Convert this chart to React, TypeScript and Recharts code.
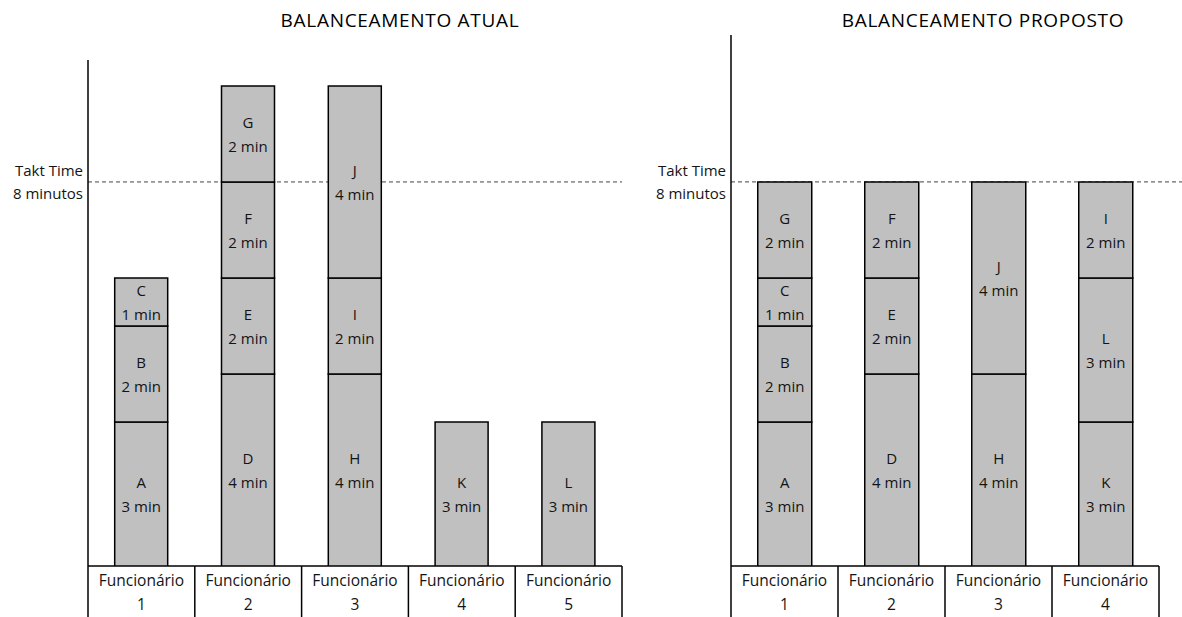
import React from "react";
import { BarChart, Bar, XAxis, YAxis, ReferenceLine, LabelList } from "recharts";

// ---------- data ----------
const atualWorkers = ["Funcionário 1", "Funcionário 2", "Funcionário 3", "Funcionário 4", "Funcionário 5"];
const atualTasks = [["A", "B", "C"], ["D", "E", "F", "G"], ["H", "I", "J"], ["K"], ["L"]];
const atualMinutes = [[3, 2, 1], [4, 2, 2, 2], [4, 2, 4], [3], [3]];

const propostoWorkers = ["Funcionário 1", "Funcionário 2", "Funcionário 3", "Funcionário 4"];
const propostoTasks = [["A", "B", "C", "G"], ["D", "E", "F"], ["H", "J"], ["K", "L", "I"]];
const propostoMinutes = [[3, 2, 1, 2], [4, 2, 2], [4, 4], [3, 3, 2]];

const taktTime = 8;
const taktLabel = ["Takt Time", "8 minutos"];
const titles = ["BALANCEAMENTO ATUAL", "BALANCEAMENTO PROPOSTO"];

// ---------- style ----------
const FONT = "'Open Sans', 'Noto Sans', sans-serif";
const TEXT = "#141414";
const H = 617;
const LAYERS = [0, 1, 2, 3];
const YW = 10;

function buildRows(workers: string[], tasks: string[][], minutes: number[][]) {
  return workers.map((w, i) => {
    const row: any = { name: w };
    LAYERS.forEach((l) => {
      row[`s${l}`] = minutes[i][l] ?? 0;
      row[`t${l}`] = tasks[i][l] ?? "";
    });
    return row;
  });
}

const segLabel = (p: any) => {
  const { x, y, width, height, value } = p;
  if (!value) return null;
  const [task, mins] = String(value).split("|");
  if (!task || !mins || mins === "0") return null;
  const cx = Number(x) + Number(width) / 2;
  const cy = Number(y) + Number(height) / 2;
  return (
    <g>
      <text x={cx} y={cy - 12} textAnchor="middle" dominantBaseline="central" fontFamily={FONT} fontSize={15} fill={TEXT}>
        {task}
      </text>
      <text x={cx} y={cy + 12} textAnchor="middle" dominantBaseline="central" fontFamily={FONT} fontSize={15} fill={TEXT}>
        {`${mins} min`}
      </text>
    </g>
  );
};

const CatTick = (props: any) => {
  const { x, y, payload, half, count } = props;
  const txt: string = String(payload.value);
  const cut = txt.lastIndexOf(" ");
  const l1 = txt.slice(0, cut);
  const l2 = txt.slice(cut + 1);
  return (
    <g>
      <line x1={x - half} x2={x - half} y1={y} y2={y + 60} stroke="#000" strokeWidth={1.5} />
      {payload.index === count - 1 && (
        <line x1={x + half} x2={x + half} y1={y} y2={y + 60} stroke="#000" strokeWidth={1.5} />
      )}
      <text x={x} y={y + 14} textAnchor="middle" dominantBaseline="central" fontFamily={FONT} fontSize={15.5} fill={TEXT}>
        {l1}
      </text>
      <text x={x} y={y + 38} textAnchor="middle" dominantBaseline="central" fontFamily={FONT} fontSize={15.5} fill={TEXT}>
        {l2}
      </text>
    </g>
  );
};

const TaktLbl = (p: any) => {
  const vb = p.viewBox || {};
  const x = Number(vb.x) - 5;
  const y = Number(vb.y);
  return (
    <g>
      <text x={x} y={y - 12} textAnchor="end" dominantBaseline="central" fontFamily={FONT} fontSize={15} fill={TEXT}>
        {taktLabel[0]}
      </text>
      <text x={x} y={y + 11} textAnchor="end" dominantBaseline="central" fontFamily={FONT} fontSize={15} fill={TEXT}>
        {taktLabel[1]}
      </text>
    </g>
  );
};

function Panel(props: any) {
  const { title, titleCenter, workers, tasks, minutes, left, width, margin, yMax, lineExtend } = props;
  const rows = buildRows(workers, tasks, minutes);
  const m = { ...margin, left: margin.left - YW };
  const plotW = width - margin.left - margin.right;
  const half = plotW / workers.length / 2;
  const layer: React.CSSProperties = { position: "absolute", left: 0, top: 0 };
  return (
    <div style={{ position: "absolute", left, top: 0, width, height: H }}>
      <div
        style={{
          position: "absolute",
          left: titleCenter - left - 200,
          width: 400,
          top: 8,
          textAlign: "center",
          fontFamily: FONT,
          fontSize: 19,
          letterSpacing: 0.7,
          color: "#000",
          lineHeight: "24px",
          whiteSpace: "nowrap",
        }}
      >
        {title}
      </div>
      {/* bottom layer: axes, category cells and takt line */}
      <div style={layer}>
        <BarChart width={width} height={H} data={rows} margin={m} barCategoryGap="25%">
          <XAxis
            dataKey="name"
            axisLine={{ stroke: "#000", strokeWidth: 1.5 }}
            tickLine={false}
            tickSize={0}
            tickMargin={0}
            height={51}
            interval={0}
            tick={<CatTick half={half} count={workers.length} />}
          />
          <YAxis
            width={YW}
            type="number"
            domain={[0, yMax]}
            allowDataOverflow
            tick={false}
            tickLine={false}
            axisLine={{ stroke: "#000", strokeWidth: 1.5 }}
          />
          <ReferenceLine
            y={taktTime}
            stroke="#444"
            strokeDasharray="4 3"
            label={(p: any) => <TaktLbl {...p} />}
            shape={(p: any) => (
              <line
                x1={p.x1}
                y1={p.y1}
                x2={Number(p.x2) + lineExtend}
                y2={p.y2}
                stroke="#444"
                strokeWidth={1}
                strokeDasharray="4 3"
              />
            )}
          />
        </BarChart>
      </div>
      {/* top layer: stacked bars */}
      <div style={layer}>
        <BarChart width={width} height={H} data={rows} margin={m} barCategoryGap="25%">
          <XAxis dataKey="name" axisLine={false} tickLine={false} tick={false} tickSize={0} height={51} interval={0} />
          <YAxis width={YW} type="number" domain={[0, yMax]} allowDataOverflow tick={false} tickLine={false} axisLine={false} />
          {LAYERS.map((l) => (
            <Bar
              key={l}
              dataKey={`s${l}`}
              stackId="a"
              fill="#c0c0c0"
              stroke="#000"
              strokeWidth={1.5}
              isAnimationActive={false}
            >
              <LabelList dataKey={(r: any) => `${r[`t${l}`]}|${r[`s${l}`]}`} content={segLabel} />
            </Bar>
          ))}
        </BarChart>
      </div>
    </div>
  );
}

export default function App() {
  return (
    <div style={{ position: "absolute", left: 0, top: 0, width: 1182, height: H, background: "#fff", overflow: "hidden" }}>
      <Panel
        title={titles[0]}
        titleCenter={400}
        workers={atualWorkers}
        tasks={atualTasks}
        minutes={atualMinutes}
        left={0}
        width={640}
        margin={{ top: 60, right: 18, bottom: 0, left: 88 }}
        yMax={10.54}
        lineExtend={0}
      />
      <Panel
        title={titles[1]}
        titleCenter={983}
        workers={propostoWorkers}
        tasks={propostoTasks}
        minutes={propostoMinutes}
        left={640}
        width={542}
        margin={{ top: 35, right: 23, bottom: 0, left: 91 }}
        yMax={11.06}
        lineExtend={23}
      />
    </div>
  );
}
